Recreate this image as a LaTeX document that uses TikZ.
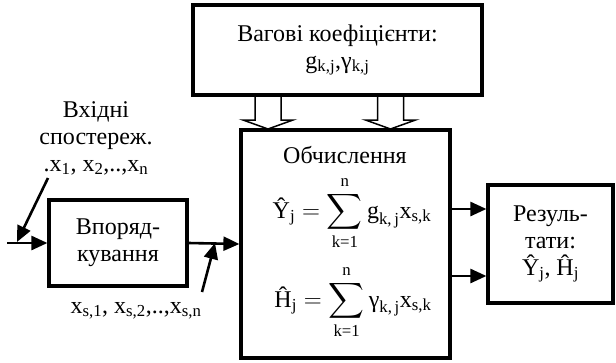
\documentclass[tikz,border=0pt]{standalone}
\usepackage{amsmath}
\usepackage{fontspec}
\setmainfont{Liberation Serif}
\usetikzlibrary{arrows.meta}

\begin{document}
\begin{tikzpicture}[x=1pt,y=-1pt,
  box/.style={draw,line width=3.2pt,align=center,inner sep=0pt},
  conn/.style={line width=2.6pt,-{Triangle[length=16pt,width=14pt]}},
  hollow/.style={line width=1.5pt,line join=miter},
  every node/.style={font=\fontsize{24}{27}\selectfont}]
\useasboundingbox (0,0) rectangle (616,362);
% blocks
\node[box,minimum width=289,minimum height=90] (weights) at (337.5,50)
 {Вагові коефіцієнти:\\g\textsubscript{k,j},γ\textsubscript{k,j}};
\node[box,minimum width=209,minimum height=228] (calc) at (345.5,244) {};
\node[box,minimum width=138,minimum height=86] (order) at (118,243)
 {Впоряд-\\кування};
\node[box,minimum width=125,minimum height=118] (result) at (550.5,244)
 {Резуль-\\тати:\\Ŷ\textsubscript{j}, Ĥ\textsubscript{j}};
% text of the calculation block
\node[anchor=base] (calct) at (345,163) {Обчислення};
\node[anchor=base] (fy) at (352,218)
 {$\displaystyle \text{Ŷ}_{\text{j}}=\sum_{\text{k=1}}^{\text{n}}\text{g}_{\text{k,\,j}}\text{x}_{\text{s,k}}$};
\node[anchor=base] (fh) at (353,307)
 {$\displaystyle \text{Ĥ}_{\text{j}}=\sum_{\text{k=1}}^{\text{n}}\text{γ}_{\text{k,\,j}}\text{x}_{\text{s,k}}$};
% labels
\node[align=center,anchor=base] (inlab) at (96,171)
 {Вхідні\\спостереж.\\.x\textsubscript{1}, x\textsubscript{2},..,x\textsubscript{n}};
\node[anchor=base] (slab) at (136,313)
 {x\textsubscript{s,1}, x\textsubscript{s,2},..,x\textsubscript{s,n}};
% connectors
\coordinate (in) at (7,243);
\coordinate (d1) at (48,178);
\coordinate (t1) at (17,242);
\coordinate (d2) at (202,292);
\coordinate (t2) at (215,243);
\draw[conn] (in) -- (order.west);
\draw[conn] (order.east) -- (calc.west);
\draw[conn] (d1) -- (t1);
\draw[conn] (d2) -- (t2);
\draw[conn] (calc.east |- 0,209) -- (result.west |- 0,209);
\draw[conn] (calc.east |- 0,276) -- (result.west |- 0,276);
% hollow arrows from the weights
\foreach \ax in {268,390.5}
  \draw[hollow] (\ax-13,95) -- (\ax-13,120) -- (\ax-25,120) -- (\ax,129)
   -- (\ax+25,120) -- (\ax+13,120) -- (\ax+13,95);
\end{tikzpicture}
\end{document}
